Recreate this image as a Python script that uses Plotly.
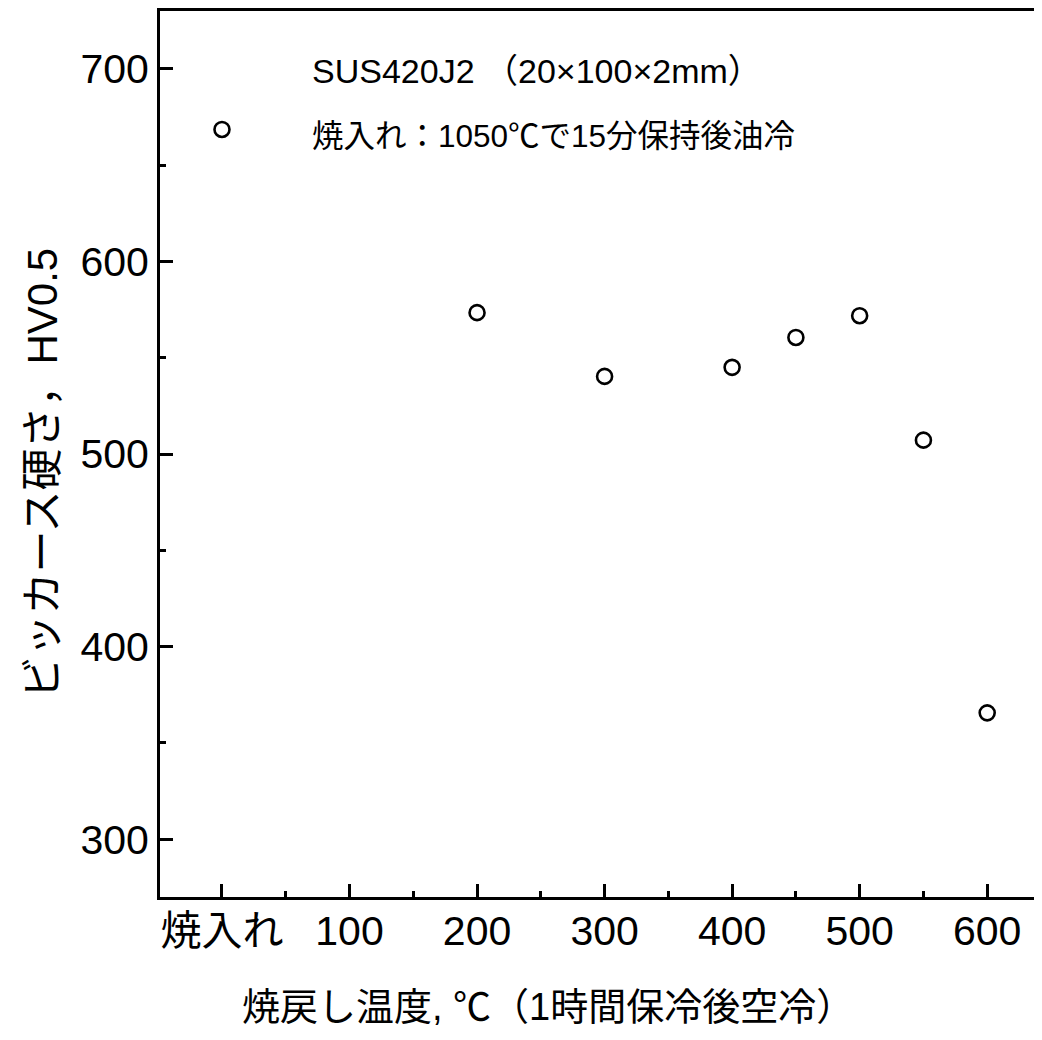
import plotly.graph_objects as go

temps = [0, 200, 300, 400, 450, 500, 550, 600]
hardness = [668.5, 573.4, 540.3, 545, 560.5, 571.8, 507.2, 365.6]
x_tickvals = [0, 100, 200, 300, 400, 500, 600]
x_ticktext = ["焼入れ", "100", "200", "300", "400", "500", "600"]
y_tickvals = [300, 400, 500, 600, 700]

FONT = "Liberation Sans, Arial, Noto Sans CJK JP"

# page has an 8px body margin; keep the figure inside the viewport
OFF = 8
W, H = 1042 - 2 * OFF, 1040 - 2 * OFF
L, R, T, B = 160 - OFF, 0, 0, H - (897 - OFF)
pw, ph = W - L - R, H - T - B

def px(x):
    return (x - OFF - L) / pw

def py(y):
    return (H - B - (y - OFF)) / ph

fig = go.Figure()
fig.add_trace(go.Scatter(
    x=temps, y=hardness, mode="markers",
    marker=dict(symbol="circle-open", size=15, color="black", line=dict(width=2.6, color="black")),
    showlegend=False, cliponaxis=False,
))

axis_common = dict(
    showline=True, linecolor="black", linewidth=3,
    ticks="inside", ticklen=13, tickwidth=2.5, tickcolor="black",
    showgrid=False, zeroline=False,
    tickfont=dict(family=FONT, size=41, color="black"),
)

fig.update_xaxes(
    range=[-48.6, 636.7], tickmode="array", tickvals=x_tickvals, ticktext=x_ticktext,
    mirror=True, ticklabelstandoff=-4,
    minor=dict(ticks="inside", ticklen=6, tickwidth=2.5, tickcolor="black", tickmode="linear", tick0=0, dtick=50),
    **axis_common,
)
fig.update_yaxes(
    range=[270, 730], tickmode="array", tickvals=y_tickvals,
    ticklabelstandoff=0,
    minor=dict(ticks="inside", ticklen=6, tickwidth=2.5, tickcolor="black", tickmode="linear", tick0=0, dtick=50),
    **axis_common,
)

annos = [
    dict(text="SUS420J2 （20×100×2mm）", x=px(310), y=py(68), xanchor="left", yanchor="middle", size=34),
    dict(text="焼入れ：1050℃で15分保持後油冷", x=px(310), y=py(133), xanchor="left", yanchor="middle", size=31.5),
    dict(text="焼戻し温度, ℃（1時間保冷後空冷）", x=px(548), y=py(1007), xanchor="center", yanchor="middle", size=38),
]
for a in annos:
    fig.add_annotation(text=a["text"], x=a["x"], y=a["y"], xref="paper", yref="paper",
                       xanchor=a["xanchor"], yanchor=a["yanchor"], showarrow=False,
                       font=dict(family=FONT, size=a["size"], color="black"))
fig.add_annotation(text="ビッカース硬さ，HV0.5", x=px(42), y=py(472), xref="paper", yref="paper",
                   xanchor="center", yanchor="middle", textangle=-90, showarrow=False,
                   font=dict(family=FONT, size=42, color="black"))

fig.update_layout(
    width=W, height=H,
    margin=dict(l=L, r=R, t=T, b=B, pad=0),
    paper_bgcolor="white", plot_bgcolor="white",
)
fig.write_html("out.html")
